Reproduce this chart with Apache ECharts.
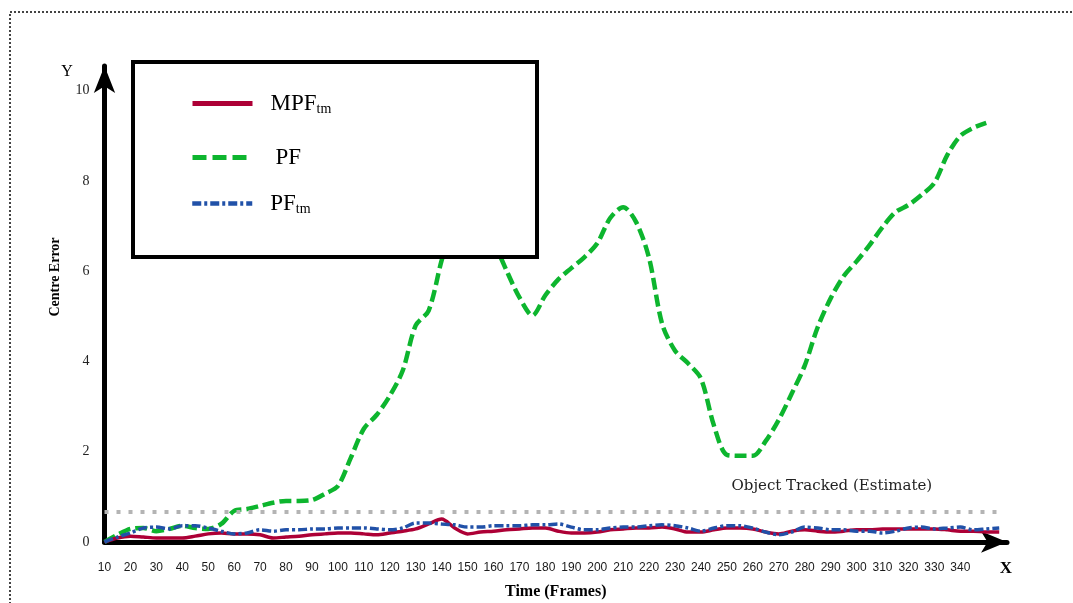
<!DOCTYPE html>
<html><head><meta charset="utf-8">
<script src="https://cdn.jsdelivr.net/npm/echarts@6/dist/echarts.min.js"></script>
<style>html,body{margin:0;padding:0;background:#fff}#c{width:1073px;height:603px}</style>
</head><body><div id="c"></div>
<script>
// x positions (frames)
const frames = [10,15,20,25,30,35,40,45,50,55,60,65,70,75,80,85,90,95,100,105,110,115,120,125,130,135,140,145,150,155,160,165,170,175,180,185,190,195,200,205,210,215,220,225,230,235,240,245,250,255,260,265,270,275,280,285,290,295,300,305,310,315,320,325,330,335,340,345,350,355];
// MPF_tm centre error
const mpfTm = [0,0.09,0.13,0.11,0.09,0.09,0.09,0.13,0.18,0.2,0.18,0.18,0.16,0.09,0.11,0.13,0.16,0.18,0.2,0.2,0.18,0.16,0.2,0.24,0.29,0.4,0.51,0.31,0.18,0.22,0.24,0.27,0.29,0.31,0.31,0.24,0.2,0.2,0.22,0.27,0.29,0.31,0.31,0.33,0.29,0.22,0.22,0.27,0.31,0.31,0.29,0.22,0.18,0.24,0.27,0.24,0.22,0.24,0.27,0.27,0.29,0.29,0.29,0.29,0.29,0.27,0.24,0.24,0.22,0.22];
// PF centre error
const pf = [0,0.16,0.29,0.31,0.24,0.29,0.36,0.31,0.29,0.4,0.69,0.73,0.8,0.87,0.91,0.91,0.93,1.07,1.24,1.87,2.51,2.82,3.24,3.8,4.8,5.13,6.24,7.18,7.69,7.47,6.69,6.02,5.42,5.02,5.47,5.82,6.07,6.31,6.62,7.18,7.42,7.09,6.29,4.84,4.24,3.96,3.62,2.58,1.93,1.91,1.91,2.24,2.71,3.29,3.91,4.76,5.4,5.89,6.22,6.58,6.98,7.31,7.47,7.69,7.96,8.58,9.0,9.18,9.29,null];
// PF_tm centre error
const pfTm = [0,0.11,0.2,0.31,0.33,0.29,0.36,0.36,0.31,0.24,0.18,0.2,0.27,0.24,0.27,0.27,0.29,0.29,0.31,0.31,0.31,0.29,0.27,0.31,0.42,0.42,0.4,0.38,0.33,0.33,0.36,0.36,0.36,0.38,0.38,0.4,0.33,0.27,0.27,0.31,0.33,0.33,0.36,0.38,0.36,0.31,0.24,0.31,0.36,0.36,0.31,0.22,0.16,0.22,0.33,0.31,0.27,0.27,0.24,0.24,0.2,0.24,0.31,0.33,0.29,0.31,0.33,0.27,0.29,0.31];
const xTickLabels = [10,20,30,40,50,60,70,80,90,100,110,120,130,140,150,160,170,180,190,200,210,220,230,240,250,260,270,280,290,300,310,320,330,340];
const yTickLabels = [0,2,4,6,8,10];
const trackedThreshold = 0.66;
const trackedEnd = 355;
const trackedLabel = 'Object Tracked (Estimate)';
const seriesNames = ['MPFtm','PF','PFtm'];

const pairs = arr => frames.map((f, i) => [f, arr[i]]);
const serif = '"Liberation Serif", "Times New Roman", serif';

const legendText = {
  fontFamily: serif, fontSize: 23, color: '#000',
  rich: {
    m: {fontFamily: serif, fontSize: 23, lineHeight: 26, color: '#000'},
    s: {fontFamily: serif, fontSize: 14, lineHeight: 14, verticalAlign: 'bottom', color: '#000'}
  }
};
function legendFmt(name) {
  if (name === 'MPFtm') return '{m|MPF}{s|tm}';
  if (name === 'PFtm') return '{m|PF}{s|tm}';
  return '{m|' + name + '}';
}
const hiddenSymbol = {opacity: 0};

const chart = echarts.init(document.getElementById('c'));
chart.setOption({
  animation: false,
  backgroundColor: '#fff',
  grid: {left: 104.5, right: 66, top: 66, bottom: 61, containLabel: false, outerBoundsMode: 'none'},
  legend: [
    {data: ['MPFtm'], left: 190, top: 92, padding: 0, itemWidth: 60, itemHeight: 14, selectedMode: false, z: 10,
     formatter: legendFmt, textStyle: Object.assign({padding: [0,0,0,13]}, legendText), lineStyle: {width: 5}, itemStyle: hiddenSymbol},
    {data: ['PF'], left: 190, top: 146, padding: 0, itemWidth: 60, itemHeight: 14, selectedMode: false, z: 10,
     formatter: legendFmt, textStyle: Object.assign({padding: [0,0,0,18]}, legendText), lineStyle: {width: 5, type: [14,6]}, itemStyle: hiddenSymbol},
    {data: ['PFtm'], left: 190, top: 192, padding: 0, itemWidth: 60, itemHeight: 14, selectedMode: false, z: 10,
     formatter: legendFmt, textStyle: Object.assign({padding: [0,0,0,13]}, legendText), lineStyle: {width: 4.5}, itemStyle: hiddenSymbol}
  ],
  xAxis: {
    type: 'value', min: 10, max: 358, interval: 10,
    axisLine: {show: true, lineStyle: {color: '#000', width: 5}, symbol: ['none', 'arrow'], symbolSize: [16, 26]},
    axisTick: {show: false}, splitLine: {show: false},
    axisLabel: {margin: 20, fontFamily: '"Liberation Sans", Arial, sans-serif', fontSize: 12, color: '#1a1a1a',
      formatter: v => xTickLabels.indexOf(v) >= 0 ? String(v) : ''},
    name: 'Time (Frames)', nameLocation: 'middle', nameGap: 42,
    nameTextStyle: {fontFamily: serif, fontWeight: 'bold', fontSize: 16, color: '#000'}
  },
  yAxis: {
    type: 'value', min: 0, max: 10.55, interval: 2,
    axisLine: {show: true, lineStyle: {color: '#000', width: 5}, symbol: ['none', 'arrow'], symbolSize: [16, 27]},
    axisTick: {show: false}, splitLine: {show: false},
    axisLabel: {margin: 15, fontFamily: serif, fontSize: 14, color: '#222',
      formatter: v => yTickLabels.indexOf(v) >= 0 ? String(v) : ''}
  },
  graphic: [
    {type: 'rect', silent: true, z: 1, shape: {x: 10, y: 12, width: 1200, height: 800},
     style: {fill: null, stroke: '#444', lineWidth: 2, lineDash: [2, 2]}},
    {type: 'rect', silent: true, z: 5, shape: {x: 133, y: 62, width: 404, height: 195},
     style: {fill: '#fff', stroke: '#000', lineWidth: 4}},
    {type: 'text', silent: true, z: 5, x: 55, y: 277, rotation: Math.PI / 2,
     style: {text: 'Centre Error', font: 'bold 14px "Liberation Serif"', fill: '#000', textAlign: 'center', textVerticalAlign: 'middle', align: 'center', verticalAlign: 'middle'}},
    {type: 'text', silent: true, z: 5, x: 67, y: 72,
     style: {text: 'Y', font: '16px "Liberation Serif"', fill: '#000', textAlign: 'center', textVerticalAlign: 'middle', align: 'center', verticalAlign: 'middle'}},
    {type: 'text', silent: true, z: 5, x: 1006, y: 569,
     style: {text: 'X', font: 'bold 17px "Liberation Serif"', fill: '#000', textAlign: 'center', textVerticalAlign: 'middle', align: 'center', verticalAlign: 'middle'}}
  ],
  series: [
    {name: seriesNames[0], type: 'line', data: pairs(mpfTm), showSymbol: false, symbol: 'none', smooth: 0.3, z: 3,
     lineStyle: {color: '#ad0036', width: 3.5}, itemStyle: {color: '#ad0036'},
     markLine: {silent: true, symbol: ['none', 'none'],
       lineStyle: {color: '#b4b4b4', width: 4, type: [4, 8]},
       label: {show: true, position: 'insideEndTop', formatter: trackedLabel, fontFamily: '"DejaVu Serif", serif', fontSize: 15, color: '#222', padding: [0, 48, 0, 0], distance: 19},
       data: [[{coord: [10, trackedThreshold]}, {coord: [trackedEnd, trackedThreshold]}]]}},
    {name: seriesNames[1], type: 'line', data: pairs(pf), showSymbol: false, symbol: 'none', smooth: 0.3, z: 2,
     lineStyle: {color: '#0db52e', width: 4.5, type: [12, 5]}, itemStyle: {color: '#0db52e'}},
    {name: seriesNames[2], type: 'line', data: pairs(pfTm), showSymbol: false, symbol: 'none', smooth: 0.3, z: 3,
     lineStyle: {color: '#2151a8', width: 3.5, type: [9, 3, 3, 3]}, itemStyle: {color: '#2151a8'}}
  ]
});
</script>
</body></html>
